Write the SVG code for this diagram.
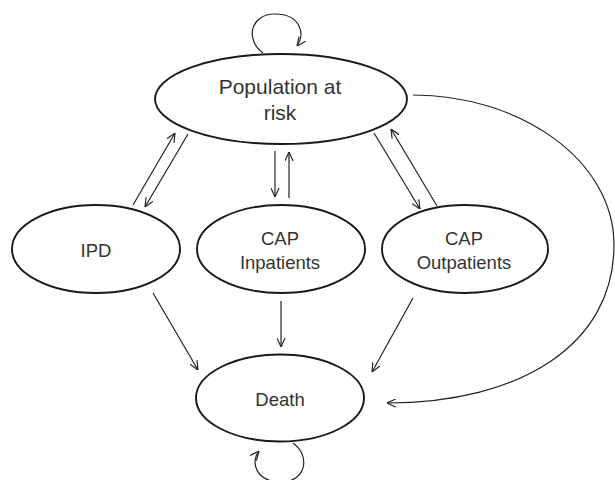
<svg xmlns="http://www.w3.org/2000/svg" width="615" height="480" viewBox="0 0 615 480">
<defs>
<marker id="arr" viewBox="0 0 10 10" refX="10" refY="5" markerWidth="9" markerHeight="9" markerUnits="userSpaceOnUse" orient="auto">
<path d="M0,0.5 L10,5 L0,9.5" fill="none" stroke="#222" stroke-width="1.3"/>
</marker>
</defs>
<style>
.node ellipse { fill: #fff; stroke: #1a1a1a; stroke-width: 1.9; }
.node text { font-family: "Liberation Sans", Arial, sans-serif; font-size: 18.5px; fill: #333; text-anchor: middle; }
#population text { font-size: 21px; }
.edge { fill: none; stroke: #222; stroke-width: 1.2; marker-end: url(#arr); }
</style>
<rect width="615" height="480" fill="#fff"/>
<g id="connectors">
<path class="edge" d="M263 53 C245 40, 250 14, 275 14 C300 14, 306 34, 297 46"/>
<path class="edge" d="M293 443 C311 456, 306 482, 281 482 C256 482, 250 462, 259 451"/>
<path class="edge" d="M133 205 L175 133"/>
<path class="edge" d="M188 134 L145 207"/>
<path class="edge" d="M275 151 L275 197"/>
<path class="edge" d="M289 198 L289 152"/>
<path class="edge" d="M374 133 L420 209"/>
<path class="edge" d="M437 206 L391 129"/>
<path class="edge" d="M153 293 L198 370"/>
<path class="edge" d="M281 301 L281 347"/>
<path class="edge" d="M413 298 L372 372"/>
<path class="edge" d="M413 95 C520 95, 614 160, 614 245 C614 345, 520 403, 387 403"/>
</g>
<g id="population" class="node">
<ellipse cx="281" cy="99" rx="126" ry="45"/>
<text x="280" y="94">Population at</text>
<text x="280" y="120">risk</text>
</g>
<g id="ipd" class="node">
<ellipse cx="96" cy="249" rx="84" ry="44"/>
<text x="96" y="257">IPD</text>
</g>
<g id="cap-inpatients" class="node">
<ellipse cx="281" cy="249" rx="84" ry="44"/>
<text x="280" y="245">CAP</text>
<text x="280" y="269">Inpatients</text>
</g>
<g id="cap-outpatients" class="node">
<ellipse cx="465" cy="249" rx="83" ry="44"/>
<text x="464" y="245">CAP</text>
<text x="464" y="269">Outpatients</text>
</g>
<g id="death" class="node">
<ellipse cx="280" cy="398" rx="84" ry="43.5"/>
<text x="280" y="406">Death</text>
</g>
</svg>
